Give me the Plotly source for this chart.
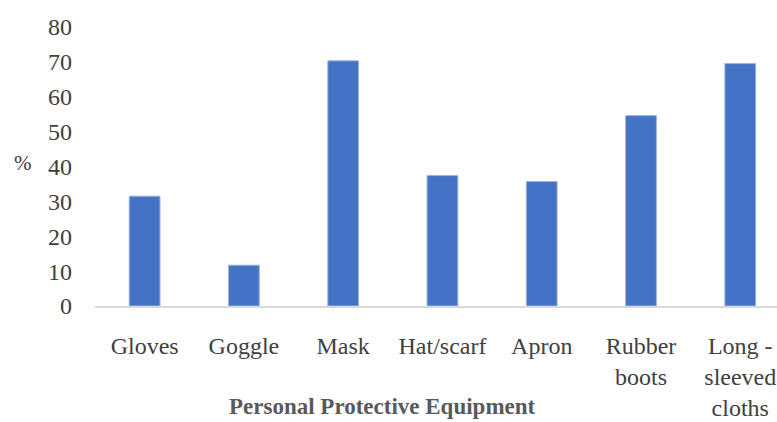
import plotly.graph_objects as go

categories = ["Gloves", "Goggle", "Mask", "Hat/scarf", "Apron", "Rubber<br>boots", "Long -<br>sleeved<br>cloths"]
values = [31.5, 11.7, 70.3, 37.4, 35.7, 54.6, 69.5]
y_ticks = [0, 10, 20, 30, 40, 50, 60, 70, 80]

W, H = 777, 422
ML, MR, MT, MB = 95, 0, 27, 116

fig = go.Figure()
fig.add_trace(go.Bar(
    x=list(range(len(categories))),
    y=values,
    marker=dict(color="#4472C4", line=dict(color="#9db4e2", width=1)),
    width=0.31,
    hoverinfo="skip",
))

fig.update_layout(
    width=W, height=H,
    margin=dict(l=ML, r=MR, t=MT, b=MB),
    plot_bgcolor="white", paper_bgcolor="white",
    showlegend=False,
    font=dict(family="Liberation Serif", size=24, color="#404040"),
    xaxis=dict(
        range=[-0.5, 6.37],
        tickmode="array",
        tickvals=list(range(len(categories))),
        ticktext=categories,
        showgrid=False,
        zeroline=False,
        showline=True,
        linecolor="#d9d9d9",
        linewidth=1.5,
        ticks="",
        ticklabelstandoff=17,
        tickfont=dict(family="Liberation Serif", size=24, color="#404040"),
        fixedrange=True,
    ),
    yaxis=dict(
        range=[0, 80],
        tickmode="array",
        tickvals=y_ticks,
        ticktext=[str(v) for v in y_ticks],
        showgrid=False,
        zeroline=False,
        showline=False,
        ticks="",
        ticklabelstandoff=22,
        tickfont=dict(family="Liberation Serif", size=24, color="#404040"),
        fixedrange=True,
    ),
    annotations=[
        dict(
            text="%", xref="paper", yref="paper",
            x=(23 - ML) / (W - ML - MR), y=(H - MB - 163) / (H - MT - MB),
            xanchor="center", yanchor="middle", showarrow=False,
            font=dict(family="Liberation Serif", size=21, color="#404040"),
        ),
        dict(
            text="<b>Personal Protective Equipment</b>", xref="paper", yref="paper",
            x=(382 - ML) / (W - ML - MR), y=(H - MB - 421) / (H - MT - MB),
            xanchor="center", yanchor="bottom", showarrow=False,
            font=dict(family="Liberation Serif", size=23, color="#595959"),
        ),
    ],
)

fig.write_html(
    "out.html",
    config={"displayModeBar": False},
    post_script="document.body.style.margin='0';document.body.style.overflow='hidden';",
)
